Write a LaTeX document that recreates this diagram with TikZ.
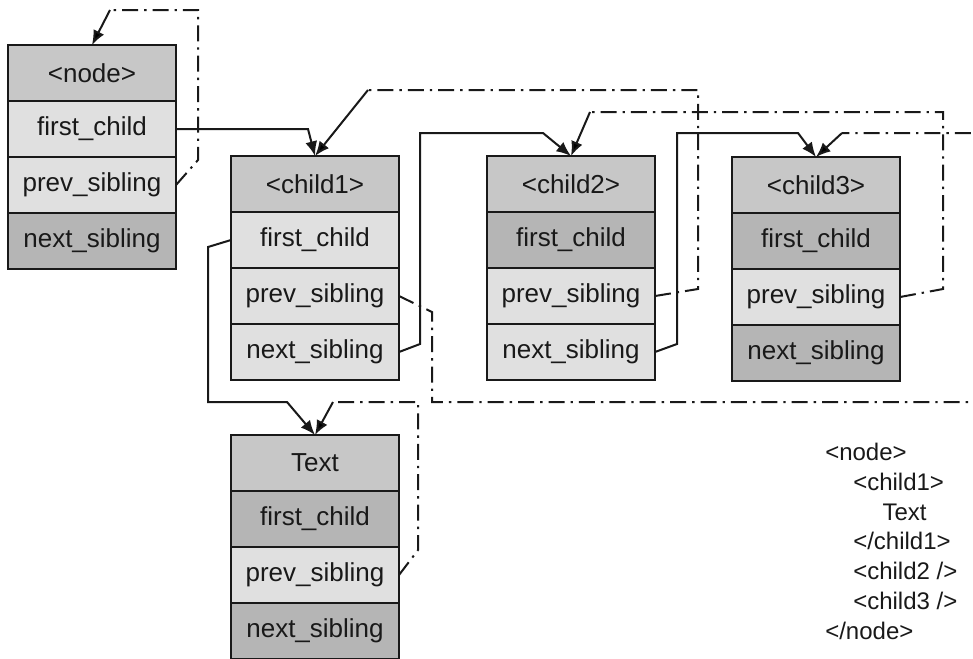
\documentclass[tikz,border=0pt]{standalone}
\usepackage{fontspec}
\setmainfont{Liberation Sans}
\usetikzlibrary{positioning,arrows.meta}
\definecolor{hdr}{gray}{0.78}
\definecolor{lite}{gray}{0.88}
\definecolor{dark}{gray}{0.71}
\definecolor{ink}{gray}{0.1}
\tikzset{
  cell/.style={draw=ink, line width=1.6pt, outer sep=0pt, inner sep=0pt,
    minimum width=126pt, minimum height=42pt,
    font=\fontsize{19.5}{22}\selectfont, text=ink},
  link/.style={draw=ink, line width=1.5pt, -{Latex[length=11pt,width=9pt]}},
  back/.style={draw=ink, line width=1.5pt, dash pattern=on 12pt off 4.5pt on 1.8pt off 4.5pt},
  tip/.style={solid, -{Latex[length=11pt,width=9pt]}},
}
\begin{document}
\begin{tikzpicture}[x=0.75pt,y=-0.75pt]
  \useasboundingbox (0,0) rectangle (973,658);
  \def\elem#1#2#3#4#5#6#7{
    \node[cell, fill=hdr] (#1-h) at (#2,#3+28) {#4};
    \node[cell, fill=#5, below=0pt of #1-h] (#1-1) {first\_child};
    \node[cell, fill=#6, below=0pt of #1-1] (#1-2) {prev\_sibling};
    \node[cell, fill=#7, below=0pt of #1-2] (#1-3) {next\_sibling};
  }
  \elem{root}{92}{45}{<node>}{lite}{lite}{dark}
  \elem{c1}{315}{156}{<child1>}{lite}{lite}{lite}
  \elem{c2}{571}{156}{<child2>}{dark}{lite}{lite}
  \elem{c3}{816}{157}{<child3>}{dark}{lite}{dark}
  \elem{txt}{315}{435}{Text}{dark}{lite}{dark}
  \draw[link] (root-1.east) -- (308,129) -- (c1-h.north);
  \draw[link] (c1-1.west) -- (208,247) -- (208,402) -- (287,402) -- (txt-h.north);
  \draw[link] (c1-3.east) -- (420,344) -- (420,133) -- (543,133) -- (c2-h.north);
  \draw[link] (c2-3.east) -- (677,344) -- (677,133) -- (798,133) -- (c3-h.north);
  \draw[back] (root-2.east) -- (198,160) -- (198,10) -- (110,10) edge[tip] (root-h.north);
  \draw[back] (c1-2.east) -- (432,312) -- (432,402) -- (990,402) -- (990,133) -- (842,133) edge[tip] (c3-h.north);
  \draw[back] (c2-2.east) -- (698,289) -- (698,90) -- (368,90) edge[tip] (c1-h.north);
  \draw[back] (c3-2.east) -- (943,289) -- (943,112) -- (590,112) edge[tip] (c2-h.north);
  \draw[back] (txt-2.east) -- (418,550) -- (418,402) -- (333,402) edge[tip] (txt-h.north);
  \node[anchor=north west, inner sep=0pt, align=left, text=ink,
    font=\fontsize{18}{22.3}\selectfont] (xml) at (825,443)
    {<node>\\ \hspace*{21pt}<child1>\\ \hspace*{43pt}Text\\ \hspace*{21pt}</child1>\\
     \hspace*{21pt}<child2 />\\ \hspace*{21pt}<child3 />\\ </node>};
\end{tikzpicture}
\end{document}
